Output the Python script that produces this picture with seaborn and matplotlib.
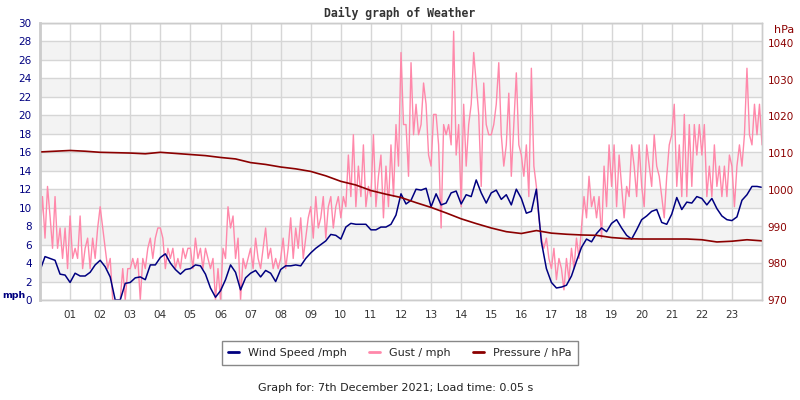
"""
Daily weather graph - wind, gust and pressure
"""

import numpy as np
import pandas as pd
import matplotlib
matplotlib.use("Agg")
import matplotlib.pyplot as plt
import seaborn as sns
from matplotlib.lines import Line2D

"""Readings (wind every 10 min, gust every 5 min, pressure every 30 min)"""

wind_mph = [
    3.2, 4.7, 4.5, 4.3, 2.8, 2.7,
    1.9, 2.9, 2.6, 2.6, 3.0, 3.8,
    4.3, 3.6, 2.5, 0.0, 0.0, 1.8,
    1.9, 2.4, 2.5, 2.2, 3.8, 3.8,
    4.6, 5.0, 4.0, 3.3, 2.8, 3.3,
    3.4, 3.8, 3.7, 2.8, 1.3, 0.3,
    1.0, 2.2, 3.8, 3.0, 1.1, 2.4,
    2.9, 3.2, 2.5, 3.2, 2.9, 2.0,
    3.3, 3.7, 3.7, 3.8, 3.7, 4.5,
    5.1, 5.6, 6.0, 6.4, 7.1, 7.0,
    6.6, 7.9, 8.3, 8.2, 8.2, 8.2,
    7.6, 7.6, 7.9, 7.9, 8.2, 9.2,
    11.5, 10.4, 10.8, 12.0, 11.9, 12.1,
    10.1, 11.5, 10.3, 10.5, 11.6, 11.8,
    10.4, 11.4, 11.2, 13.0, 11.6, 10.5,
    11.6, 11.9, 10.9, 11.4, 10.3, 12.0,
    11.0, 9.4, 9.6, 12.0, 6.3, 3.4,
    1.9, 1.3, 1.4, 1.6, 2.6, 4.2,
    5.7, 6.6, 6.3, 7.2, 7.8, 7.4,
    8.3, 8.7, 7.8, 7.0, 6.6, 7.6,
    8.7, 9.1, 9.6, 9.8, 8.4, 8.2,
    9.3, 11.1, 9.8, 10.6, 10.5, 11.2,
    11.0, 10.3, 11.0, 9.9, 9.1, 8.7,
    8.6, 9.0, 10.8, 11.4, 12.3, 12.3,
    12.2,
]

gust_mph = [
    6.7, 11.2, 6.7, 12.3, 9.1, 5.6, 11.2, 5.6, 7.8, 4.5, 7.8, 3.4,
    9.1, 4.5, 5.6, 4.5, 9.1, 3.4, 5.6, 6.7, 3.4, 6.7, 4.5, 7.8,
    10.1, 7.8, 5.6, 3.4, 4.5, 0.0, 0.0, 0.0, 0.0, 3.4, 0.0, 3.4,
    3.4, 4.5, 3.4, 4.5, 0.0, 4.5, 3.4, 5.6, 6.7, 4.5, 6.7, 7.8,
    7.8, 6.7, 3.4, 5.6, 4.5, 5.6, 3.4, 4.5, 3.4, 5.6, 4.5, 5.6,
    5.6, 3.4, 6.7, 4.5, 5.6, 3.4, 5.6, 4.5, 3.4, 4.5, 0.0, 3.4,
    0.0, 5.6, 4.5, 10.1, 7.8, 9.1, 4.5, 6.7, 0.0, 4.5, 3.4, 4.5,
    5.6, 3.4, 6.7, 4.5, 3.4, 5.6, 7.8, 4.5, 5.6, 3.4, 4.5, 3.4,
    4.5, 6.7, 3.4, 5.6, 8.9, 4.5, 7.8, 5.6, 8.9, 4.5, 6.7, 8.9,
    10.1, 6.7, 11.2, 7.8, 8.9, 11.2, 6.7, 10.1, 11.2, 7.8, 10.1, 11.2,
    8.9, 11.2, 10.1, 15.7, 11.2, 17.9, 10.1, 14.5, 11.2, 16.8, 10.1, 12.3,
    11.2, 17.9, 10.1, 13.4, 15.7, 8.9, 14.5, 10.1, 16.8, 11.2, 19.0, 14.5,
    26.8, 19.0, 19.0, 13.4, 25.7, 17.9, 21.2, 17.9, 19.0, 23.5, 21.2, 15.7,
    14.5, 20.1, 20.1, 16.8, 7.8, 19.0, 17.9, 19.0, 16.8, 29.1, 15.7, 19.0,
    10.1, 21.2, 14.5, 19.0, 21.2, 26.8, 23.5, 20.1, 12.3, 23.5, 19.0, 17.9,
    17.9, 19.0, 21.2, 25.7, 17.9, 14.5, 16.8, 22.4, 13.4, 19.0, 24.6, 16.8,
    15.7, 13.4, 16.8, 11.2, 25.1, 14.5, 12.3, 8.9, 6.7, 5.6, 6.7, 4.5,
    3.4, 5.6, 2.2, 4.5, 3.4, 1.1, 4.5, 2.2, 5.6, 3.4, 6.7, 4.5,
    7.8, 11.2, 8.9, 13.4, 10.1, 11.2, 8.9, 11.2, 6.7, 14.5, 10.1, 16.8,
    12.3, 16.8, 10.1, 15.7, 12.3, 8.9, 12.3, 11.2, 16.8, 14.5, 11.2, 16.8,
    12.3, 10.1, 16.8, 14.5, 12.3, 17.9, 14.5, 13.4, 11.2, 8.9, 13.4, 16.8,
    17.9, 21.2, 12.3, 16.8, 11.2, 20.1, 11.2, 19.0, 12.3, 19.0, 15.7, 19.0,
    15.7, 19.0, 11.2, 14.5, 11.2, 16.8, 12.3, 14.5, 11.2, 14.5, 11.2, 15.7,
    14.5, 10.1, 14.5, 16.8, 14.5, 17.9, 25.1, 17.9, 16.8, 21.2, 17.9, 21.2,
    16.8,
]

pressure_hpa = [
    1010.3, 1010.5, 1010.7, 1010.5, 1010.2, 1010.1, 1010.0, 1009.8,
    1010.2, 1009.9, 1009.6, 1009.3, 1008.8, 1008.4, 1007.4, 1006.9,
    1006.2, 1005.7, 1005.0, 1003.8, 1002.3, 1001.3, 999.8, 998.8,
    997.9, 996.5, 995.2, 993.7, 992.1, 990.8, 989.6, 988.6,
    988.1, 988.9, 988.2, 987.9, 987.7, 987.6, 987.0, 986.7,
    986.6, 986.6, 986.6, 986.6, 986.4, 985.8, 986.0, 986.4,
    986.1,
]

hour_labels = ["%02d" % h for h in range(1, 24)]

wind = pd.DataFrame({"hour": np.arange(len(wind_mph)) / 6, "mph": wind_mph})
gust = pd.DataFrame({"hour": np.arange(len(gust_mph)) / 12, "mph": gust_mph})
press = pd.DataFrame({"hour": np.arange(len(pressure_hpa)) / 2, "hpa": pressure_hpa})

NAVY = "#000080"
PINK = "#ff88aa"
DRED = "#8b0000"

sns.set_style("white")
plt.rcParams["font.family"] = ["DejaVu Sans"]

fig = plt.figure(figsize=(8, 4), dpi=100)
ax = fig.add_axes([0.05, 0.25, 0.9025, 0.6925])

# alternating shaded bands
for lo in range(2, 30, 4):
    ax.axhspan(lo, lo + 2, color="#f3f3f3", zorder=0, lw=0)

sns.lineplot(data=gust, x="hour", y="mph", color=PINK, lw=1, ax=ax)
sns.lineplot(data=wind, x="hour", y="mph", color=NAVY, lw=1.1, ax=ax)

ax.set_xlim(0, 24)
ax.set_ylim(0, 30)
ax.set_xticks(range(1, 24))
ax.set_xticklabels(hour_labels)
ax.set_yticks(range(0, 31, 2))
ax.set_axisbelow(True)
ax.grid(True, color="#d6d6d6", lw=1)
ax.set_xlabel("")
ax.set_ylabel("")
ax.tick_params(axis="x", length=0, labelsize=7.5, labelcolor="#333333", pad=7)
ax.tick_params(axis="y", length=0, labelsize=7.5, labelcolor=NAVY, pad=6)

ax2 = ax.twinx()
sns.lineplot(data=press, x="hour", y="hpa", color=DRED, lw=1.2, ax=ax2)
ax2.set_ylim(970, 1045.4)
ax2.set_yticks(range(970, 1041, 10))
ax2.set_ylabel("")
ax2.grid(False)
ax2.tick_params(axis="y", length=0, labelsize=7.5, labelcolor=DRED, pad=4)

for a in (ax, ax2):
    for s in a.spines.values():
        s.set_color("#cccccc")
        s.set_linewidth(1)
ax.spines["left"].set_linewidth(2)

fig.text(0.5, 1 - 13 / 400, "Daily graph of Weather", ha="center", va="center",
         family="DejaVu Sans Mono", weight="bold", size=8.3, color="#333333")
fig.text(2 / 800, 1 - 296 / 400, "mph", ha="left", va="center",
         weight="bold", size=6.8, color=NAVY)
fig.text(794 / 800, 1 - 30 / 400, "hPa", ha="right", va="center",
         size=8, color=DRED)

handles = [Line2D([], [], color=NAVY, lw=2),
           Line2D([], [], color=PINK, lw=2),
           Line2D([], [], color=DRED, lw=2)]
fig.legend(handles, ["Wind Speed /mph", "Gust / mph", "Pressure / hPa"],
           loc="center", bbox_to_anchor=(0.5, 1 - 353 / 400), ncol=3,
           frameon=True, fancybox=False, edgecolor="#888888", framealpha=1,
           fontsize=8, handlelength=1.0, columnspacing=2.0, borderpad=0.6)

fig.text(0.495, 1 - 388 / 400, "Graph for: 7th December 2021; Load time: 0.05 s",
         ha="center", va="center", size=8, color="#222222")

fig.savefig("out.png", dpi=100)
